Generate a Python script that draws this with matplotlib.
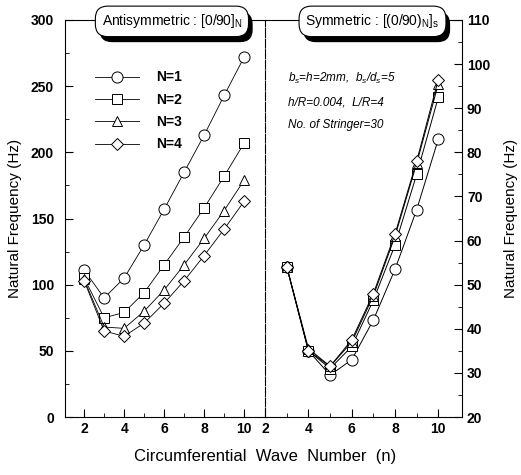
import numpy as np
import matplotlib
matplotlib.use("Agg")
import matplotlib.pyplot as plt
import matplotlib.patheffects as pe

plt.rcParams['font.family'] = ['Liberation Sans', 'DejaVu Sans']
plt.rcParams['mathtext.fontset'] = 'custom'
plt.rcParams['mathtext.rm'] = 'Liberation Sans'
plt.rcParams['mathtext.it'] = 'Liberation Sans:italic'

# Antisymmetric [0/90]_N
n_anti = [2, 3, 4, 5, 6, 7, 8, 9, 10]
anti_n1 = [111, 90, 105, 130, 157, 185, 213, 243, 272]
anti_n2 = [105, 75, 79, 94, 115, 136, 158, 182, 207]
anti_n3 = [104, 68, 67, 80, 96, 115, 135, 156, 179]
anti_n4 = [103, 65, 61, 71, 86, 103, 122, 142, 163]

# Symmetric [(0/90)_N]_s
n_sym = [3, 4, 5, 6, 7, 8, 9, 10]
sym_n1 = [54, 35, 29.5, 33, 42, 53.5, 67, 83]
sym_n2 = [54, 35, 31, 36, 46.5, 59, 75, 92.5]
sym_n3 = [54, 35.5, 31.5, 37, 47.5, 61, 77.5, 95.5]
sym_n4 = [54, 35, 31.5, 37.5, 48, 61.5, 78, 96.5]

labels = ['N=1', 'N=2', 'N=3', 'N=4']
markers = ['o', 's', '^', 'D']
msizes = [8, 6.5, 7, 6]

fig = plt.figure(figsize=(5.21, 4.75), dpi=100)
ax1 = fig.add_axes([0.125, 0.122, 0.384, 0.836])
ax2 = fig.add_axes([0.509, 0.122, 0.378, 0.836])

for ys, lab, m, ms in zip([anti_n1, anti_n2, anti_n3, anti_n4], labels, markers, msizes):
    ax1.plot(n_anti, ys, color='black', lw=0.6, marker=m, ms=ms,
             mfc='white', mec='black', mew=0.7, label=lab)

for ys, m, ms in zip([sym_n1, sym_n2, sym_n3, sym_n4], markers, msizes):
    ax2.plot(n_sym, ys, color='black', lw=0.7, marker=m, ms=ms,
             mfc='white', mec='black', mew=0.7)

ax1.set_xlim(1.05, 11.05)
ax1.set_ylim(0, 300)
ax1.set_xticks([2, 4, 6, 8, 10])
ax1.set_xticks([3, 5, 7, 9], minor=True)
ax1.set_yticks([0, 50, 100, 150, 200, 250, 300])
ax1.set_yticks([25, 75, 125, 175, 225, 275], minor=True)
ax1.tick_params(which='both', direction='in', top=False, right=False, labelsize=10)
ax1.tick_params(which='major', length=6)
ax1.tick_params(which='minor', length=3)
ax1.tick_params(axis='y', pad=8)
ax1.set_ylabel('Natural Frequency (Hz)', fontsize=11, labelpad=6)
ax1.spines['right'].set_visible(False)

ax2.set_xlim(2, 11.1)
ax2.set_ylim(20, 110)
ax2.set_xticks([2, 4, 6, 8, 10])
ax2.set_xticks([3, 5, 7, 9], minor=True)
ax2.set_yticks([20, 30, 40, 50, 60, 70, 80, 90, 100, 110])
ax2.set_yticks([25, 35, 45, 55, 65, 75, 85, 95, 105], minor=True)
ax2.yaxis.tick_right()
ax2.yaxis.set_label_position('right')
ax2.tick_params(which='both', direction='in', left=False, top=False, labelsize=10)
ax2.tick_params(which='major', length=6)
ax2.tick_params(which='minor', length=3)
ax2.set_ylabel('Natural Frequency (Hz)', fontsize=11, labelpad=10)
ax2.spines['left'].set_linestyle((0, (8, 1.5)))

for ax in (ax1, ax2):
    for lbl in ax.get_xticklabels() + ax.get_yticklabels():
        lbl.set_fontweight('bold')

fig.text(0.509, 0.04, 'Circumferential  Wave  Number  (n)', ha='center',
         va='center', fontsize=12)

leg = ax1.legend(loc='upper left', bbox_to_anchor=(0.12, 0.887), frameon=False,
                 handlelength=3.2, handletextpad=1.2, labelspacing=0.6,
                 fontsize=10, borderaxespad=0)
for t in leg.get_texts():
    t.set_fontweight('bold')

ax2.text(0.115, 0.852, '$b_s$=h=2mm,  $b_s$/$d_s$=5', transform=ax2.transAxes,
         fontsize=8.5, style='italic', va='center')
ax2.text(0.115, 0.792, 'h/R=0.004,  L/R=4', transform=ax2.transAxes,
         fontsize=8.5, style='italic', va='center')
ax2.text(0.115, 0.735, 'No. of Stringer=30', transform=ax2.transAxes,
         fontsize=8.5, style='italic', va='center')


def title_box(x, y, s):
    t = fig.text(x, y, s, ha='center', va='center', fontsize=10,
                 bbox=dict(boxstyle='round,pad=0.45,rounding_size=0.9',
                           fc='white', ec='black', lw=0.8))
    t.get_bbox_patch().set_path_effects([
        pe.SimplePatchShadow(offset=(3, -4), shadow_rgbFace='black', alpha=1.0),
        pe.Normal()])


title_box(0.33, 0.955, 'Antisymmetric : [0/90]$_\\mathrm{N}$')
title_box(0.715, 0.955, 'Symmetric : [(0/90)$_\\mathrm{N}$]$_\\mathrm{s}$')

fig.savefig('out.png', dpi=100)
